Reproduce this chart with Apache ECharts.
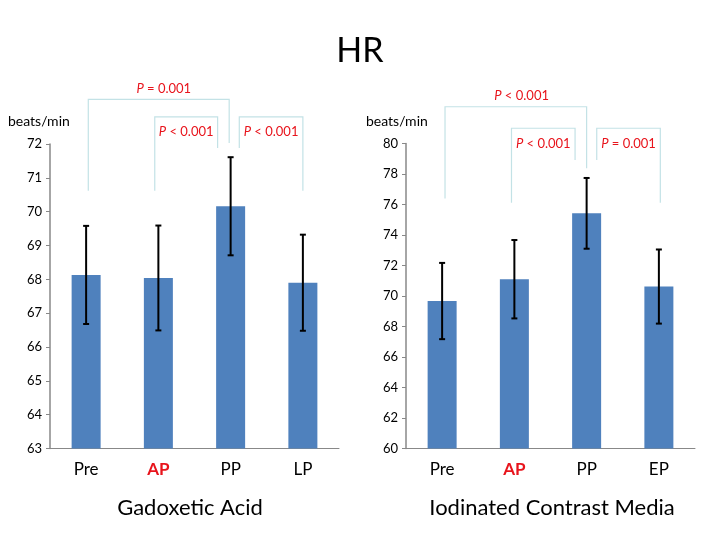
<!DOCTYPE html>
<html><head><meta charset="utf-8">
<script src="https://cdn.jsdelivr.net/npm/echarts@6/dist/echarts.min.js"></script>
<style>html,body{margin:0;padding:0;background:#fff}#c{width:720px;height:540px}</style>
</head><body><div id="c"></div>
<script>
// ---- data ----
const categoriesGad = ['Pre', 'AP', 'PP', 'LP'];
const categoriesIod = ['Pre', 'AP', 'PP', 'EP'];
const meanGad = [68.13, 68.04, 70.16, 67.9];
const errGad = [1.45, 1.55, 1.45, 1.42];
const meanIod = [69.67, 71.1, 75.42, 70.62];
const errIod = [2.5, 2.57, 2.32, 2.43];
const axisGad = { min: 63, max: 72, interval: 1 };
const axisIod = { min: 60, max: 80, interval: 2 };
const pLabelsGad = ['= 0.001', '< 0.001', '< 0.001'];
const pLabelsIod = ['< 0.001', '< 0.001', '= 0.001'];

// bracket annotation geometry (category index + offset in band units, values in data units)
const bracketsGad = [
  { a: 0, aOff: 0.03, b: 2, bOff: -0.02, aEnd: 70.62, top: 73.32, bEnd: 72.03, labelY: 73.62, shift: 0.07 },
  { a: 1, aOff: -0.05, b: 2, bOff: -0.18, aEnd: 70.62, top: 72.8, bEnd: 71.88, labelY: 72.36, shift: 0 },
  { a: 2, aOff: 0.12, b: 3, bOff: 0.0, aEnd: 71.88, top: 72.8, bEnd: 70.62, labelY: 72.36, shift: 0 }
];
const bracketsIod = [
  { a: 0, aOff: 0.04, b: 2, bOff: 0.0, aEnd: 76.4, top: 82.41, bEnd: 78.37, labelY: 83.12, shift: 0.08 },
  { a: 1, aOff: -0.04, b: 2, bOff: -0.16, aEnd: 76.12, top: 81.0, bEnd: 78.92, labelY: 80.01, shift: 0 },
  { a: 2, aOff: 0.14, b: 3, bOff: 0.02, aEnd: 78.92, top: 81.0, bEnd: 76.12, labelY: 80.01, shift: 0 }
];

const FONT = 'Lato';
const chart = echarts.init(document.getElementById('c'));

function errData(mean, err) {
  return mean.map((m, i) => [i, m - err[i], m + err[i]]);
}
function errorSeries(idx, mean, err) {
  return {
    type: 'custom', xAxisIndex: idx, yAxisIndex: idx, z: 5,
    data: errData(mean, err),
    renderItem: function (params, api) {
      const x = api.value(0);
      const lo = api.coord([x, api.value(1)]);
      const hi = api.coord([x, api.value(2)]);
      const cap = 3;
      const st = { stroke: '#000', lineWidth: 2 };
      return { type: 'group', children: [
        { type: 'line', shape: { x1: lo[0], y1: lo[1], x2: hi[0], y2: hi[1] }, style: st },
        { type: 'line', shape: { x1: lo[0] - cap, y1: lo[1], x2: lo[0] + cap, y2: lo[1] }, style: st },
        { type: 'line', shape: { x1: hi[0] - cap, y1: hi[1], x2: hi[0] + cap, y2: hi[1] }, style: st }
      ]};
    }
  };
}
function xAxis(idx, cats) {
  return {
    type: 'category', gridIndex: idx, data: cats,
    axisLine: { lineStyle: { color: '#888', width: 1 } },
    axisTick: { length: 4, lineStyle: { color: '#888' } },
    axisLabel: {
      margin: 13, color: '#000', fontSize: 17, fontFamily: FONT,
      formatter: v => v === 'AP' ? '{r|AP}' : v,
      rich: { r: { color: '#e8141c', fontWeight: 'bold', fontSize: 17, fontFamily: FONT } }
    }
  };
}
function yAxis(idx, ax) {
  return {
    type: 'value', gridIndex: idx, min: ax.min, max: ax.max, interval: ax.interval,
    axisLine: { show: true, lineStyle: { color: '#888', width: 1.5 } },
    axisTick: { show: true, length: 4, lineStyle: { color: '#888' } },
    splitLine: { show: false },
    axisLabel: { margin: 8, color: '#000', fontSize: 13, fontFamily: FONT }
  };
}

chart.setOption({
  animation: false,
  title: [
    { text: 'HR', left: 360, top: 34, padding: 0, textAlign: 'center',
      textStyle: { fontSize: 34, fontWeight: 'normal', color: '#000', fontFamily: FONT } },
    { text: 'Gadoxetic Acid', left: 190, top: 497, padding: 0, textAlign: 'center',
      textStyle: { fontSize: 22, fontWeight: 'normal', color: '#000', fontFamily: FONT } },
    { text: 'Iodinated Contrast Media', left: 552, top: 497, padding: 0, textAlign: 'center',
      textStyle: { fontSize: 22, fontWeight: 'normal', color: '#000', fontFamily: FONT } },
    { text: 'beats/min', left: 8, top: 114, padding: 0,
      textStyle: { fontSize: 14, fontWeight: 'normal', color: '#000', fontFamily: FONT } },
    { text: 'beats/min', left: 366, top: 114, padding: 0,
      textStyle: { fontSize: 14, fontWeight: 'normal', color: '#000', fontFamily: FONT } }
  ],
  grid: [
    { left: 50, top: 144, width: 289, height: 304.5 },
    { left: 406, top: 143.5, width: 289, height: 305 }
  ],
  xAxis: [xAxis(0, categoriesGad), xAxis(1, categoriesIod)],
  yAxis: [yAxis(0, axisGad), yAxis(1, axisIod)],
  series: [
    { type: 'bar', xAxisIndex: 0, yAxisIndex: 0, data: meanGad, barWidth: 29,
      itemStyle: { color: '#4f81bd' } },
    { type: 'bar', xAxisIndex: 1, yAxisIndex: 1, data: meanIod, barWidth: 29,
      itemStyle: { color: '#4f81bd' } },
    errorSeries(0, meanGad, errGad),
    errorSeries(1, meanIod, errIod)
  ]
});

function bracketGraphics(idx, brackets, labels) {
  const out = [];
  const c0 = chart.convertToPixel({ xAxisIndex: idx }, 0);
  const c1 = chart.convertToPixel({ xAxisIndex: idx }, 1);
  const band = c1 - c0;
  const px = (i, off) => chart.convertToPixel({ xAxisIndex: idx }, i) + off * band;
  const py = v => chart.convertToPixel({ yAxisIndex: idx }, v);
  brackets.forEach((b, k) => {
    const xa = px(b.a, b.aOff), xb = px(b.b, b.bOff);
    out.push({
      type: 'polyline', silent: true,
      shape: { points: [[xa, py(b.aEnd)], [xa, py(b.top)], [xb, py(b.top)], [xb, py(b.bEnd)]] },
      style: { stroke: '#c3e2e6', lineWidth: 1.2, fill: null }
    });
    out.push({
      type: 'text', silent: true,
      x: (xa + xb) / 2 + b.shift * band, y: py(b.labelY),
      style: {
        text: '{i|P} ' + labels[k], align: 'center', verticalAlign: 'middle',
        rich: {
          i: { fontStyle: 'italic', fill: '#e8141c', fontSize: 13, fontFamily: FONT }
        },
        fill: '#e8141c', fontSize: 13, fontFamily: FONT
      }
    });
  });
  return out;
}

chart.setOption({
  graphic: bracketGraphics(0, bracketsGad, pLabelsGad).concat(bracketGraphics(1, bracketsIod, pLabelsIod))
});
</script>
</body></html>
